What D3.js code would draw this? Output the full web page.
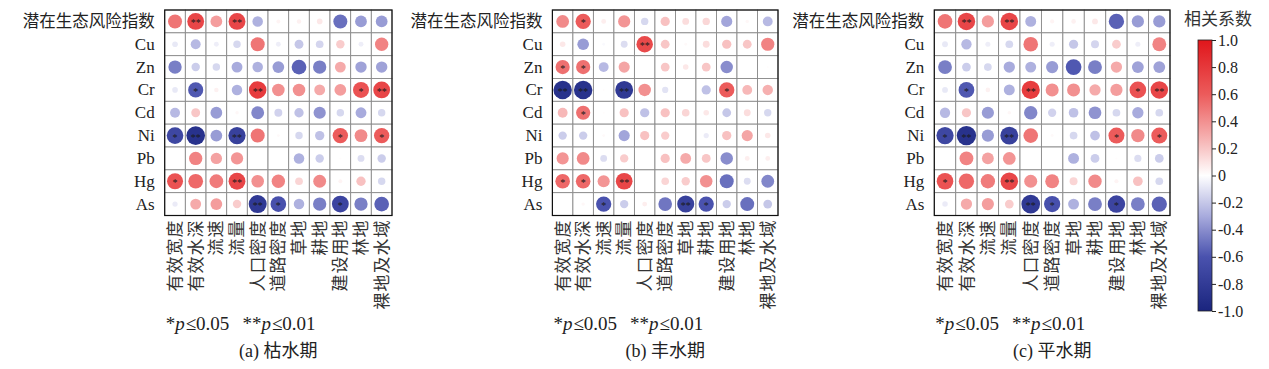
<!DOCTYPE html>
<html>
<head>
<meta charset="utf-8">
<script src="https://cdn.jsdelivr.net/npm/d3@7"></script>
<style>
body { margin: 0; background: #fff; }
svg { display: block; font-family: "Liberation Serif", "Noto Sans CJK SC", serif; }
</style>
</head>
<body>
<div id="chart"></div>
<script>
const width = 1269;
const height = 369;

const rowLabels = ['潜在生态风险指数', 'Cu', 'Zn', 'Cr', 'Cd', 'Ni', 'Pb', 'Hg', 'As'];
const colLabels = ['有效宽度', '有效水深', '流速', '流量', '人口密度', '道路密度', '草地', '耕地', '建设用地', '林地', '裸地及水域'];
const legendTicks = [1, 0.8, 0.6, 0.4, 0.2, 0, -0.2, -0.4, -0.6, -0.8, -1];

// (a) 枯水期
const corrA = [
  [0.50, 0.72, 0.35, 0.72, -0.28, 0.04, 0.05, 0.08, -0.50, -0.35, -0.35],
  [-0.08, -0.25, -0.06, -0.14, 0.50, -0.06, -0.20, -0.15, 0.18, -0.06, 0.45],
  [-0.45, -0.18, -0.14, -0.30, -0.28, -0.35, -0.55, -0.45, 0.30, -0.33, -0.33],
  [-0.08, -0.58, 0.05, -0.28, 0.78, 0.40, 0.40, 0.30, 0.35, 0.65, 0.72],
  [-0.25, 0.20, -0.35, 0.03, -0.42, -0.16, -0.22, -0.38, -0.14, -0.30, -0.14],
  [-0.70, -0.88, -0.35, -0.75, 0.50, 0.02, -0.14, -0.22, 0.60, 0.42, 0.60],
  [0, 0.45, 0.33, 0.38, 0, 0, -0.28, -0.18, 0.01, -0.12, -0.18],
  [0.65, 0.55, 0.48, 0.72, 0.40, 0.45, 0.15, 0.42, 0.04, 0.22, -0.14],
  [-0.07, 0.30, 0.35, 0.18, -0.82, -0.62, -0.28, -0.45, -0.72, -0.45, -0.55]
];
const sigA = [
  ['', '**', '', '**', '', '', '', '', '', '', ''],
  ['', '', '', '', '', '', '', '', '', '', ''],
  ['', '', '', '', '', '', '', '', '', '', ''],
  ['', '*', '', '', '**', '', '', '', '', '*', '**'],
  ['', '', '', '', '', '', '', '', '', '', ''],
  ['*', '**', '', '**', '', '', '', '', '*', '', '*'],
  ['', '', '', '', '', '', '', '', '', '', ''],
  ['*', '', '', '**', '', '', '', '', '', '', ''],
  ['', '', '', '', '**', '*', '', '', '*', '', '']
];

// (b) 丰水期
const corrB = [
  [0.42, 0.60, 0.06, 0.38, -0.14, 0.22, 0.12, 0.14, -0.32, 0.03, -0.25],
  [0.08, -0.35, -0.02, -0.12, 0.70, 0.20, 0.02, 0.12, 0.22, 0.20, 0.45],
  [0.52, 0.52, -0.25, 0.32, 0, 0.20, 0.08, 0.20, -0.40, 0, 0.01],
  [-0.88, -0.88, 0.01, -0.82, 0.40, -0.10, 0, -0.22, 0.60, 0.25, 0.28],
  [0.25, 0.52, 0.01, 0.22, -0.22, 0.22, 0.15, 0.08, -0.20, 0.12, -0.14],
  [-0.18, -0.18, 0.02, -0.32, 0.22, 0.18, 0, -0.07, 0.22, 0.32, 0.08],
  [0.38, 0.42, -0.12, 0.18, 0, 0.22, 0.30, 0.20, -0.40, 0.06, 0.06],
  [0.55, 0.55, 0.38, 0.72, 0, 0.15, 0.18, 0.40, -0.50, -0.12, -0.42],
  [0, 0.03, -0.60, -0.18, 0.06, -0.48, -0.75, -0.60, -0.18, -0.50, -0.20]
];
const sigB = [
  ['', '*', '', '', '', '', '', '', '', '', ''],
  ['', '', '', '', '**', '', '', '', '', '', ''],
  ['*', '*', '', '', '', '', '', '', '', '', ''],
  ['**', '**', '', '**', '', '', '', '', '*', '', ''],
  ['', '*', '', '', '', '', '', '', '', '', ''],
  ['', '', '', '', '', '', '', '', '', '', ''],
  ['', '', '', '', '', '', '', '', '', '', ''],
  ['*', '*', '', '**', '', '', '', '', '', '', ''],
  ['', '', '*', '', '', '', '**', '*', '', '', '']
];

// (c) 平水期
const corrC = [
  [0.50, 0.72, 0.35, 0.72, -0.28, 0.04, 0.05, 0.08, -0.55, -0.35, -0.35],
  [-0.08, -0.25, -0.06, -0.14, 0.50, -0.06, -0.20, -0.15, 0.18, -0.06, 0.45],
  [-0.45, -0.18, -0.14, -0.30, -0.28, -0.35, -0.58, -0.45, 0.30, -0.33, -0.33],
  [-0.08, -0.58, 0.05, -0.28, 0.78, 0.40, 0.40, 0.30, 0.35, 0.65, 0.72],
  [-0.25, 0.20, -0.35, 0.03, -0.42, -0.16, -0.22, -0.38, -0.14, -0.30, -0.14],
  [-0.70, -0.88, -0.35, -0.75, 0.50, 0.02, -0.14, -0.22, 0.60, 0.42, 0.60],
  [0, 0.45, 0.33, 0.38, 0, 0, -0.28, -0.18, 0.01, -0.12, -0.18],
  [0.65, 0.55, 0.48, 0.72, 0.40, 0.45, 0.15, 0.42, 0.04, 0.22, -0.14],
  [-0.07, 0.30, 0.35, 0.18, -0.82, -0.62, -0.28, -0.45, -0.72, -0.45, -0.55]
];
const sigC = sigA;

const panels = [
  {x0: 164.7, x1: 392, corr: corrA, sig: sigA, caption: '(a) 枯水期'},
  {x0: 552.4, x1: 778, corr: corrB, sig: sigB, caption: '(b) 丰水期'},
  {x0: 934.3, x1: 1170, corr: corrC, sig: sigC, caption: '(c) 平水期'}
];
const gridTop = 10;
const gridBottom = 215.5;

const color = d3.scaleLinear()
  .domain([-1, -0.6, -0.3, 0, 0.3, 0.6, 1])
  .range(['#1a247e', '#4a52ae', '#a8abdd', '#ffffff', '#f5aaaa', '#ec5b5b', '#e0161b']);

const svg = d3.select('#chart').append('svg')
  .attr('width', width)
  .attr('height', height);

svg.append('rect').attr('width', width).attr('height', height).attr('fill', '#fff');

panels.forEach(p => {
  const x = d3.scaleBand().domain(colLabels).range([p.x0, p.x1]);
  const y = d3.scaleBand().domain(rowLabels).range([gridTop, gridBottom]);
  const rScale = d3.scaleSqrt().domain([0, 1])
    .range([0, Math.min(x.bandwidth(), y.bandwidth()) / 2 - 0.4]);

  const cells = [];
  p.corr.forEach((row, i) => row.forEach((v, j) => {
    cells.push({row: rowLabels[i], col: colLabels[j], value: v, sig: p.sig[i][j]});
  }));

  const g = svg.append('g');

  // cell grid
  g.selectAll('rect.cell')
    .data(cells)
    .enter()
    .append('rect')
    .attr('class', 'cell')
    .attr('x', d => x(d.col))
    .attr('y', d => y(d.row))
    .attr('width', x.bandwidth())
    .attr('height', y.bandwidth())
    .attr('fill', '#fff')
    .attr('stroke', '#8a8a8a')
    .attr('stroke-width', 0.9);

  g.append('rect')
    .attr('x', p.x0)
    .attr('y', gridTop)
    .attr('width', p.x1 - p.x0)
    .attr('height', gridBottom - gridTop)
    .attr('fill', 'none')
    .attr('stroke', '#111')
    .attr('stroke-width', 1.2);

  // circles
  g.selectAll('circle')
    .data(cells)
    .enter()
    .append('circle')
    .attr('cx', d => x(d.col) + x.bandwidth() / 2)
    .attr('cy', d => y(d.row) + y.bandwidth() / 2)
    .attr('r', d => rScale(Math.abs(d.value)))
    .attr('fill', d => color(d.value));

  // significance stars
  g.selectAll('text.sig')
    .data(cells.filter(d => d.sig))
    .enter()
    .append('text')
    .attr('class', 'sig')
    .attr('x', d => x(d.col) + x.bandwidth() / 2)
    .attr('y', d => y(d.row) + y.bandwidth() / 2 + 5)
    .attr('text-anchor', 'middle')
    .style('font-size', '10px')
    .attr('fill', '#1a1a1a')
    .text(d => d.sig);

  // y axis
  const yAxis = svg.append('g')
    .attr('transform', 'translate(' + p.x0 + ',0)')
    .call(d3.axisLeft(y).tickSize(0).tickPadding(10));
  yAxis.select('.domain').remove();
  yAxis.selectAll('text')
    .style('font-size', d => /[A-Za-z]/.test(d) ? '17px' : '16.5px')
    .style('font-family', '"Liberation Serif", "Noto Sans CJK SC", serif')
    .attr('fill', '#222');

  // x axis (vertical labels)
  const xAxis = svg.append('g')
    .attr('transform', 'translate(0,' + gridBottom + ')')
    .call(d3.axisBottom(x).tickSize(0));
  xAxis.select('.domain').remove();
  xAxis.selectAll('text')
    .attr('transform', 'rotate(-90)')
    .attr('x', -4)
    .attr('y', 0)
    .attr('dy', '0.36em')
    .style('text-anchor', 'end')
    .style('font-size', '17px')
    .style('letter-spacing', '1px')
    .style('font-family', '"Noto Sans CJK SC", sans-serif')
    .attr('fill', '#333');

  // significance note
  const note = svg.append('text')
    .attr('x', p.x0 + 1)
    .attr('y', 330)
    .style('font-size', '19px')
    .attr('fill', '#222');
  note.append('tspan').text('*');
  note.append('tspan').style('font-style', 'italic').text('p');
  note.append('tspan').attr('dx', 1).text('≤0.05');
  note.append('tspan').attr('dx', 13).text('**');
  note.append('tspan').style('font-style', 'italic').text('p');
  note.append('tspan').attr('dx', 1).text('≤0.01');

  // caption
  svg.append('text')
    .attr('x', (p.x0 + p.x1) / 2)
    .attr('y', 357)
    .attr('text-anchor', 'middle')
    .style('font-size', '18px')
    .attr('fill', '#222')
    .text(p.caption);
});

// legend colour bar
const legendX = 1198;
const legendW = 14;
const ly = d3.scaleLinear().domain([-1, 1]).range([311, 40]);

const defs = svg.append('defs');
const grad = defs.append('linearGradient')
  .attr('id', 'corrGrad')
  .attr('x1', 0).attr('y1', 1).attr('x2', 0).attr('y2', 0);
grad.selectAll('stop')
  .data(d3.range(-1, 1.0001, 0.1))
  .enter()
  .append('stop')
  .attr('offset', d => ((d + 1) / 2 * 100) + '%')
  .attr('stop-color', d => color(d));

svg.append('rect')
  .attr('x', legendX)
  .attr('y', ly(1))
  .attr('width', legendW)
  .attr('height', ly(-1) - ly(1))
  .attr('fill', 'url(#corrGrad)')
  .attr('stroke', '#222')
  .attr('stroke-width', 0.8);

const lAxis = svg.append('g')
  .attr('transform', 'translate(' + (legendX + legendW) + ',0)')
  .call(d3.axisRight(ly)
    .tickValues(legendTicks)
    .tickSize(4)
    .tickPadding(2)
    .tickFormat(d => d === 0 ? '0' : d.toFixed(1)));
lAxis.select('.domain').remove();
lAxis.selectAll('line').attr('stroke', '#222');
lAxis.selectAll('text')
  .style('font-size', '16px')
  .style('font-family', '"Liberation Serif", serif')
  .attr('fill', '#222');

svg.append('text')
  .attr('x', 1218)
  .attr('y', 25)
  .attr('text-anchor', 'middle')
  .style('font-size', '17px')
  .style('font-family', '"Noto Sans CJK SC", sans-serif')
  .attr('fill', '#333')
  .text('相关系数');
</script>
</body>
</html>
